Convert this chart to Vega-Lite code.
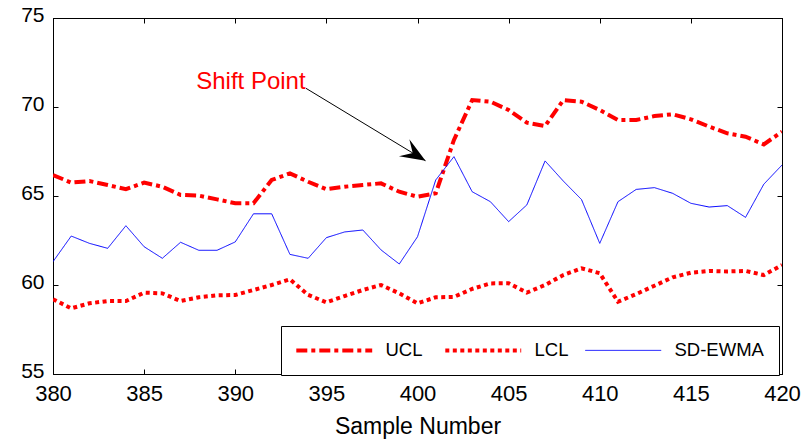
{
  "$schema": "https://vega.github.io/schema/vega-lite/v6.json",
  "width": 729,
  "height": 356,
  "autosize": {"type": "none"},
  "padding": {"left": 53, "top": 18, "right": 26, "bottom": 70},
  "background": "white",
  "config": {
    "view": {"stroke": "black", "strokeWidth": 1},
    "font": "Liberation Sans",
    "axis": {
      "grid": false,
      "domainColor": "black",
      "domainWidth": 1,
      "tickColor": "black",
      "tickWidth": 1,
      "labelColor": "black",
      "titleColor": "black",
      "labelFont": "Liberation Sans",
      "titleFont": "Liberation Sans",
      "titleFontWeight": "normal",
      "labelFlush": false,
      "labelOverlap": false
    }
  },
  "resolve": {"axis": {"x": "independent", "y": "independent"}},
  "layer": [
    {
      "data": {
        "values": [
          {"sample": 380, "UCL": 66.18, "LCL": 59.20, "SD-EWMA": 61.31},
          {"sample": 381, "UCL": 65.75, "LCL": 58.69, "SD-EWMA": 62.75},
          {"sample": 382, "UCL": 65.84, "LCL": 58.97, "SD-EWMA": 62.34},
          {"sample": 383, "UCL": 65.62, "LCL": 59.10, "SD-EWMA": 62.06},
          {"sample": 384, "UCL": 65.38, "LCL": 59.10, "SD-EWMA": 63.33},
          {"sample": 385, "UCL": 65.75, "LCL": 59.57, "SD-EWMA": 62.15},
          {"sample": 386, "UCL": 65.52, "LCL": 59.53, "SD-EWMA": 61.50},
          {"sample": 387, "UCL": 65.06, "LCL": 59.10, "SD-EWMA": 62.40},
          {"sample": 388, "UCL": 65.02, "LCL": 59.31, "SD-EWMA": 61.95},
          {"sample": 389, "UCL": 64.81, "LCL": 59.42, "SD-EWMA": 61.95},
          {"sample": 390, "UCL": 64.59, "LCL": 59.44, "SD-EWMA": 62.42},
          {"sample": 391, "UCL": 64.59, "LCL": 59.72, "SD-EWMA": 64.00},
          {"sample": 392, "UCL": 65.90, "LCL": 60.00, "SD-EWMA": 64.00},
          {"sample": 393, "UCL": 66.27, "LCL": 60.32, "SD-EWMA": 61.72},
          {"sample": 394, "UCL": 65.80, "LCL": 59.44, "SD-EWMA": 61.50},
          {"sample": 395, "UCL": 65.38, "LCL": 59.03, "SD-EWMA": 62.66},
          {"sample": 396, "UCL": 65.52, "LCL": 59.38, "SD-EWMA": 62.98},
          {"sample": 397, "UCL": 65.62, "LCL": 59.72, "SD-EWMA": 63.09},
          {"sample": 398, "UCL": 65.71, "LCL": 60.00, "SD-EWMA": 61.97},
          {"sample": 399, "UCL": 65.24, "LCL": 59.53, "SD-EWMA": 61.18},
          {"sample": 400, "UCL": 64.96, "LCL": 58.97, "SD-EWMA": 62.71},
          {"sample": 401, "UCL": 65.15, "LCL": 59.31, "SD-EWMA": 65.90},
          {"sample": 402, "UCL": 68.15, "LCL": 59.33, "SD-EWMA": 67.21},
          {"sample": 403, "UCL": 70.39, "LCL": 59.78, "SD-EWMA": 65.24},
          {"sample": 404, "UCL": 70.30, "LCL": 60.09, "SD-EWMA": 64.68},
          {"sample": 405, "UCL": 69.83, "LCL": 60.10, "SD-EWMA": 63.56},
          {"sample": 406, "UCL": 69.12, "LCL": 59.57, "SD-EWMA": 64.50},
          {"sample": 407, "UCL": 68.93, "LCL": 60.00, "SD-EWMA": 66.97},
          {"sample": 408, "UCL": 70.39, "LCL": 60.56, "SD-EWMA": 65.84},
          {"sample": 409, "UCL": 70.30, "LCL": 60.94, "SD-EWMA": 64.80},
          {"sample": 410, "UCL": 69.83, "LCL": 60.66, "SD-EWMA": 62.34},
          {"sample": 411, "UCL": 69.27, "LCL": 59.06, "SD-EWMA": 64.68},
          {"sample": 412, "UCL": 69.27, "LCL": 59.49, "SD-EWMA": 65.37},
          {"sample": 413, "UCL": 69.49, "LCL": 59.96, "SD-EWMA": 65.47},
          {"sample": 414, "UCL": 69.59, "LCL": 60.43, "SD-EWMA": 65.15},
          {"sample": 415, "UCL": 69.31, "LCL": 60.69, "SD-EWMA": 64.59},
          {"sample": 416, "UCL": 68.90, "LCL": 60.79, "SD-EWMA": 64.38},
          {"sample": 417, "UCL": 68.52, "LCL": 60.76, "SD-EWMA": 64.46},
          {"sample": 418, "UCL": 68.33, "LCL": 60.79, "SD-EWMA": 63.80},
          {"sample": 419, "UCL": 67.90, "LCL": 60.56, "SD-EWMA": 65.66},
          {"sample": 420, "UCL": 68.61, "LCL": 61.12, "SD-EWMA": 66.74}
        ]
      },
      "transform": [{"fold": ["UCL", "LCL", "SD-EWMA"], "as": ["series", "value"]}],
      "mark": {"type": "line", "clip": true, "strokeCap": "butt"},
      "encoding": {
        "x": {
          "field": "sample", "type": "quantitative",
          "scale": {"domain": [380, 420], "nice": false, "zero": false},
          "axis": {"orient": "bottom", "values": [380, 385, 390, 395, 400, 405, 410, 415, 420], "tickSize": -5, "labelPadding": 14, "labelFontSize": 22, "title": "Sample Number", "titleFontSize": 23, "titlePadding": 11}
        },
        "y": {
          "field": "value", "type": "quantitative",
          "scale": {"domain": [55, 75], "nice": false, "zero": false},
          "axis": {"orient": "left", "values": [55, 60, 65, 70, 75], "tickSize": -5, "labelPadding": 14, "labelFontSize": 21, "labelOffset": -3, "title": null}
        },
        "color": {
          "field": "series", "type": "nominal",
          "scale": {"domain": ["UCL", "LCL", "SD-EWMA"], "range": ["#ff0000", "#ff0000", "#0000ff"]},
          "legend": {"title": null, "orient": "none", "legendX": 228, "legendY": 308, "direction": "horizontal", "symbolType": "M-6,0H6", "symbolSize": 160, "symbolOffset": 29, "labelOffset": 42, "labelFontSize": 18.5, "labelFont": "Liberation Sans", "labelColor": "black", "padding": 15, "strokeColor": "black", "fillColor": "white", "columnPadding": 14}
        },
        "strokeDash": {
          "field": "series", "type": "nominal",
          "scale": {"domain": ["UCL", "LCL", "SD-EWMA"], "range": [[11, 4, 4, 4], [4, 3.5], [1, 0]]},
          "legend": {"title": null, "orient": "none", "legendX": 228, "legendY": 308, "direction": "horizontal", "symbolType": "M-6,0H6", "symbolSize": 160, "symbolOffset": 29, "labelOffset": 42, "labelFontSize": 18.5, "labelFont": "Liberation Sans", "labelColor": "black", "padding": 15, "strokeColor": "black", "fillColor": "white", "columnPadding": 14}
        },
        "strokeWidth": {
          "field": "series", "type": "nominal",
          "scale": {"type": "ordinal", "domain": ["UCL", "LCL", "SD-EWMA"], "range": [4, 4, 1]},
          "legend": {"title": null, "orient": "none", "legendX": 228, "legendY": 308, "direction": "horizontal", "symbolType": "M-6,0H6", "symbolSize": 160, "symbolOffset": 29, "labelOffset": 42, "labelFontSize": 18.5, "labelFont": "Liberation Sans", "labelColor": "black", "padding": 15, "strokeColor": "black", "fillColor": "white", "columnPadding": 14}
        }
      }
    },
    {
      "data": {"values": [{"sample": 390.86, "value": 70.99, "label": "Shift Point"}]},
      "mark": {"type": "text", "fontSize": 24, "font": "Liberation Sans", "color": "#ff0000", "align": "center", "baseline": "alphabetic"},
      "encoding": {
        "x": {
          "field": "sample", "type": "quantitative",
          "scale": {"domain": [380, 420], "nice": false, "zero": false},
          "axis": {"orient": "top", "values": [380, 385, 390, 395, 400, 405, 410, 415, 420], "tickSize": -5, "labels": false, "title": null}
        },
        "y": {
          "field": "value", "type": "quantitative",
          "scale": {"domain": [55, 75], "nice": false, "zero": false},
          "axis": {"orient": "right", "values": [55, 60, 65, 70, 75], "tickSize": -5, "labels": false, "title": null}
        },
        "text": {"field": "label"}
      }
    },
    {
      "data": {"values": [{"sample": 393.88, "value": 71.05, "sample2": 400.44, "value2": 66.98}]},
      "mark": {"type": "rule", "color": "black", "strokeWidth": 1},
      "encoding": {
        "x": {"field": "sample", "type": "quantitative", "scale": {"domain": [380, 420], "nice": false, "zero": false}, "axis": null},
        "y": {"field": "value", "type": "quantitative", "scale": {"domain": [55, 75], "nice": false, "zero": false}, "axis": null},
        "x2": {"field": "sample2"},
        "y2": {"field": "value2"}
      }
    },
    {
      "data": {"values": [{"sample": 400.44, "value": 66.98}]},
      "mark": {"type": "point", "shape": "M0,0L-1,-0.4L-0.6,0L-1,0.4Z", "size": 2500, "angle": 31.25, "filled": true, "color": "black", "opacity": 1, "strokeWidth": 0},
      "encoding": {
        "x": {"field": "sample", "type": "quantitative", "scale": {"domain": [380, 420], "nice": false, "zero": false}, "axis": null},
        "y": {"field": "value", "type": "quantitative", "scale": {"domain": [55, 75], "nice": false, "zero": false}, "axis": null}
      }
    }
  ]
}
